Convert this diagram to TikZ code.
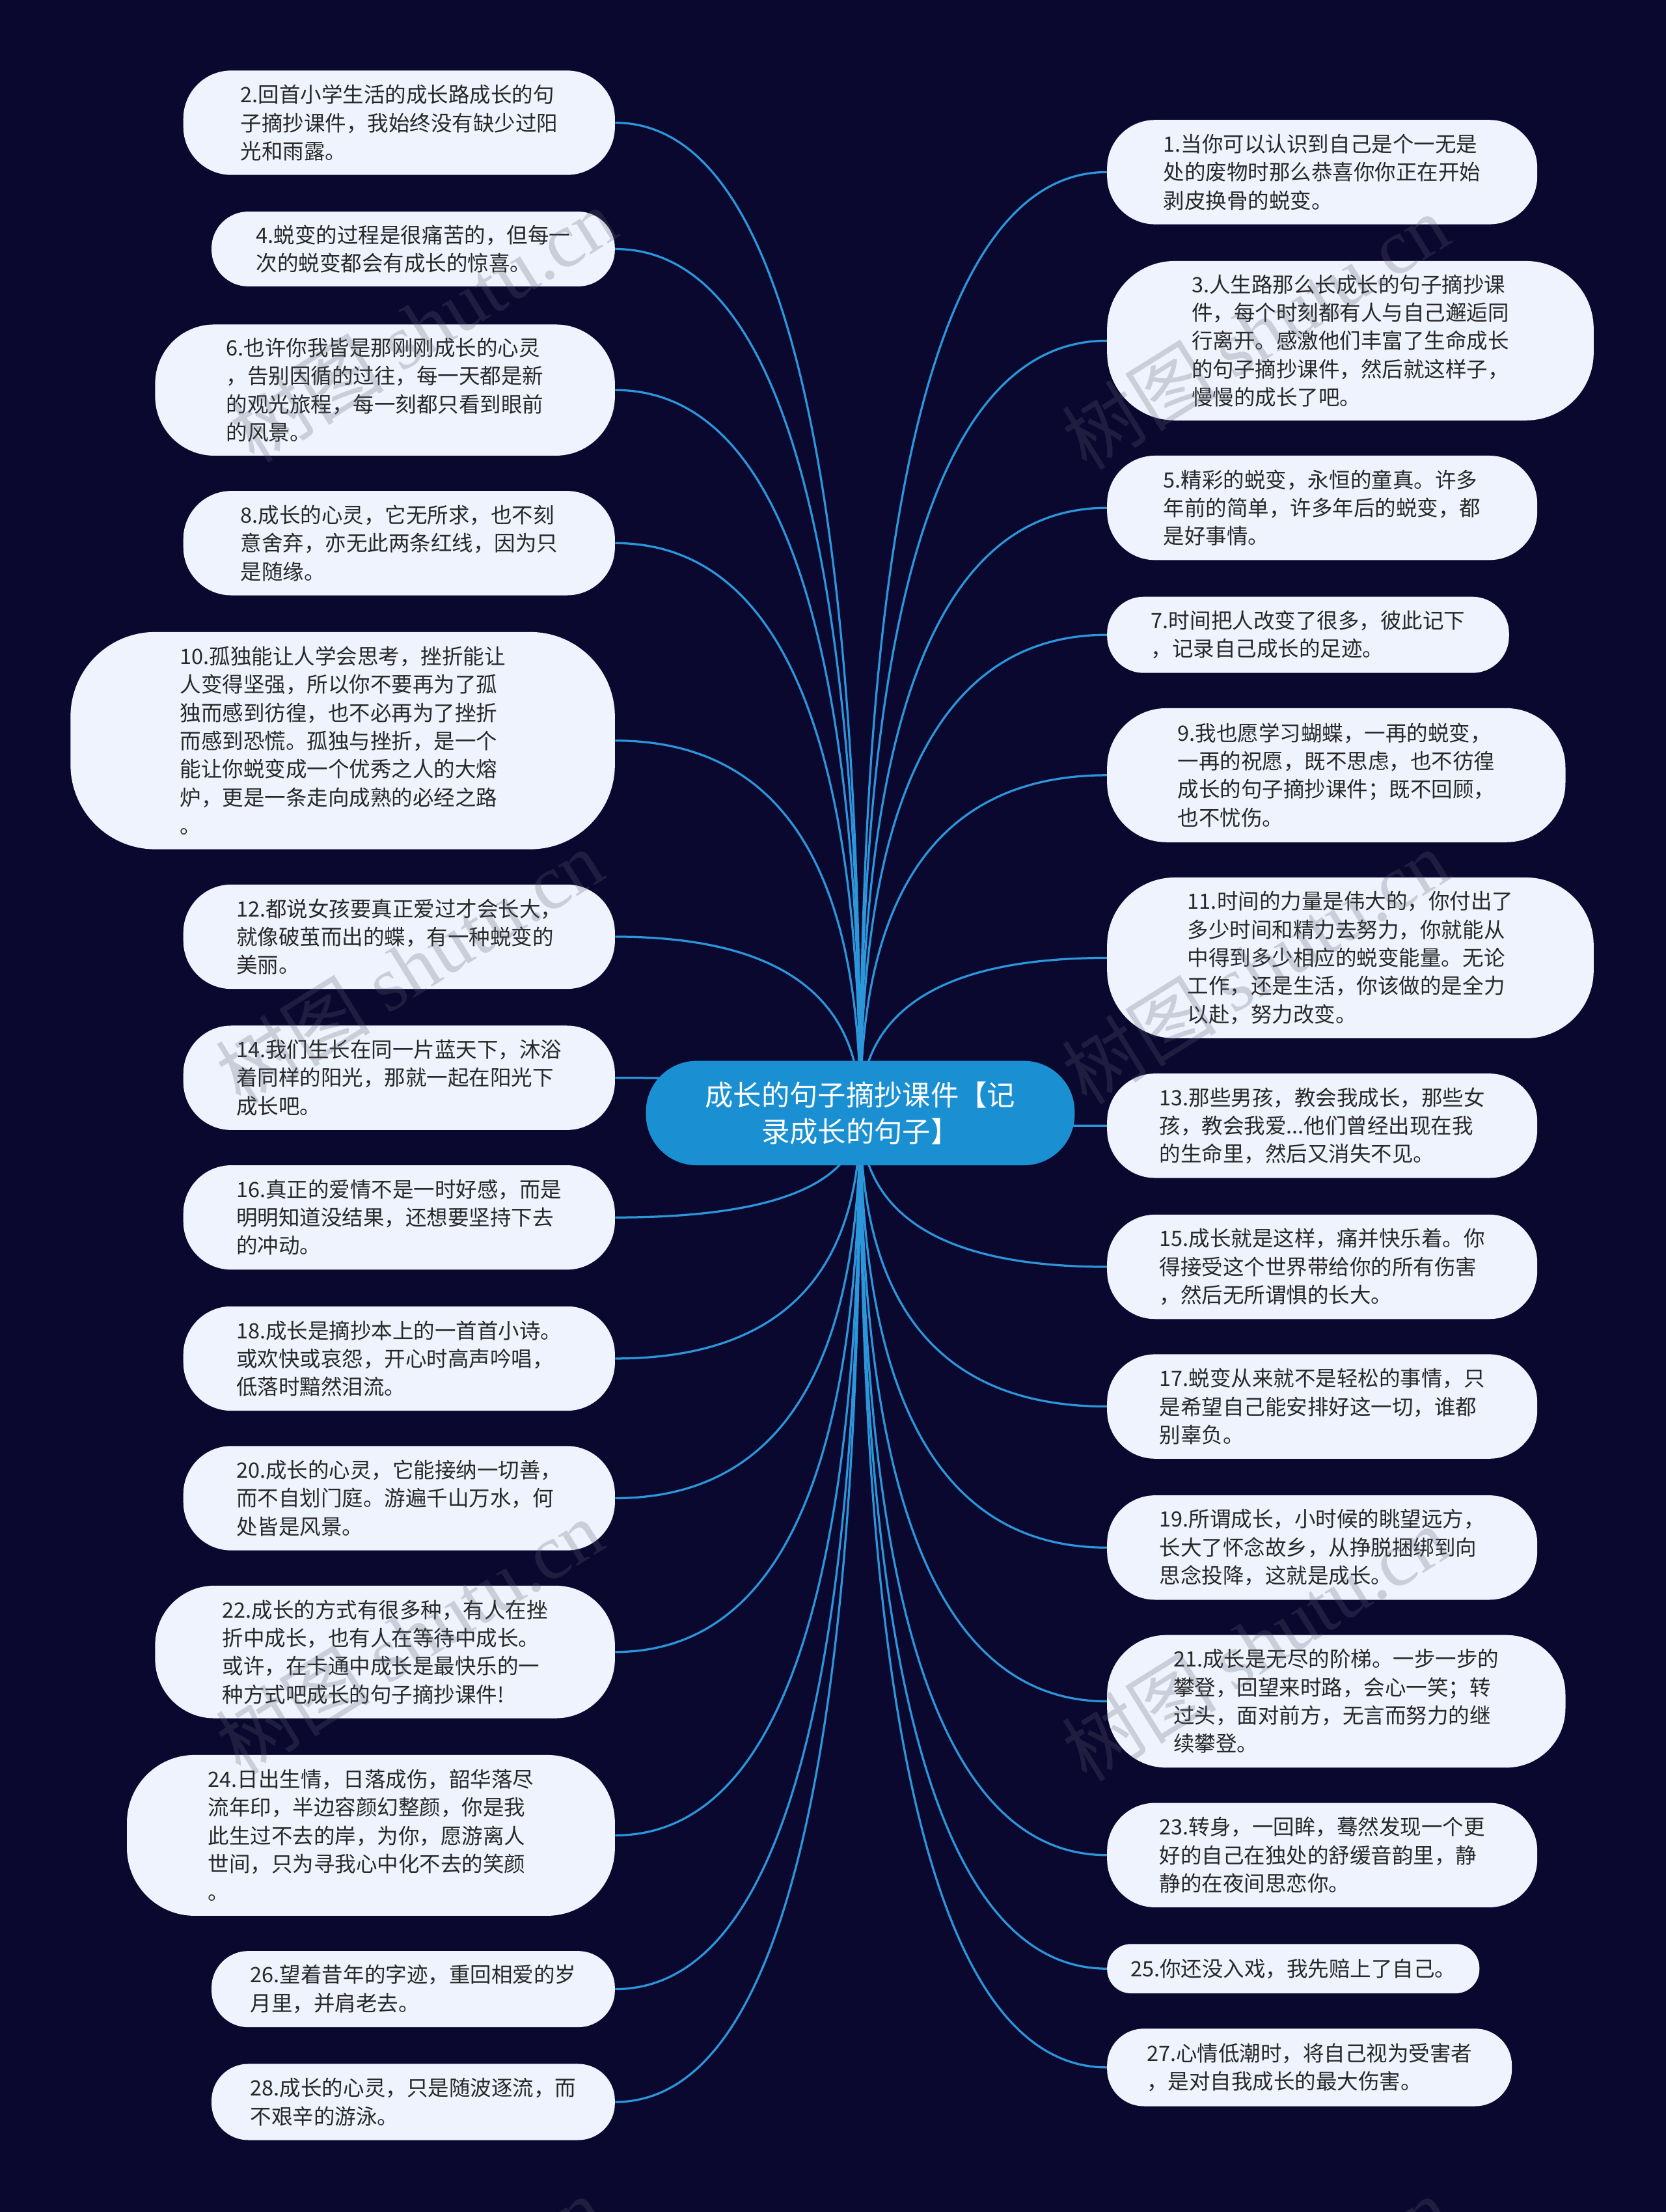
\documentclass[tikz,border=0pt]{standalone}
\usepackage{fontspec}
\setmainfont{Noto Sans CJK SC}
\newfontfamily\wmlatin{Liberation Serif}
\usetikzlibrary{calc}
\definecolor{bgc}{RGB}{11,8,48}
\definecolor{leaffill}{RGB}{238,243,253}
\definecolor{leaftext}{RGB}{40,40,40}
\definecolor{linkc}{RGB}{44,150,218}
\definecolor{rootc}{RGB}{26,144,210}
\definecolor{wmc}{RGB}{95,95,115}
\pgfdeclarelayer{bgl}
\pgfdeclarelayer{linkl}
\pgfsetlayers{bgl,linkl,main}
\tikzset{
  leaf/.style={rectangle, fill=leaffill, text=leaftext, align=left, inner sep=0pt, font=\fontsize{15}{20}\selectfont},
  rootnode/.style={rectangle, fill=rootc, text=white, align=center, inner sep=0pt, rounded corners=36pt, font=\fontsize{20}{26}\selectfont, minimum width=304pt, minimum height=74pt},
  link/.style={draw=linkc, line width=1.5pt},
  wm/.style={text=wmc, fill opacity=0.25, rotate=32, font=\fontsize{55}{60}\selectfont}
}
\newcommand\leafnode[7]{%
  \node[leaf, minimum width={#4pt-#2pt}, minimum height={#5pt-#3pt}, rounded corners=#6pt] (#1) at ({(#2+#4)/2},{(#3+#5)/2}) {#7};}
\newcommand\linkto[2]{%
  \draw[link] (root.center) .. controls ($(root.center)!0.6667!(root.center |- #1.#2)$) and ($(#1.#2)!0.6667!(root.center |- #1.#2)$) .. (#1.#2);}
\begin{document}
\begin{tikzpicture}[x=1pt,y=-1pt]
\useasboundingbox (0,0) rectangle (1181.3,1568);
\begin{pgfonlayer}{bgl}
\fill[bgc] (0,0) rectangle (1181.3,1568);
\end{pgfonlayer}
\clip (0,0) rectangle (1181.3,1568);

\node[rootnode] (root) at (610,789) {成长的句子摘抄课件【记\\录成长的句子】};

% left side
\leafnode{l2}{130}{50}{436}{124}{34}{2.回首小学生活的成长路成长的句\\子摘抄课件，我始终没有缺少过阳\\光和雨露。}
\leafnode{l4}{150}{150}{436}{203}{26}{4.蜕变的过程是很痛苦的，但每一\\次的蜕变都会有成长的惊喜。}
\leafnode{l6}{110}{230}{436}{323}{42}{6.也许你我皆是那刚刚成长的心灵\\，告别因循的过往，每一天都是新\\的观光旅程，每一刻都只看到眼前\\的风景。}
\leafnode{l8}{130}{348}{436}{422}{34}{8.成长的心灵，它无所求，也不刻\\意舍弃，亦无此两条红线，因为只\\是随缘。}
\leafnode{l10}{50}{448}{436}{602}{60}{10.孤独能让人学会思考，挫折能让\\人变得坚强，所以你不要再为了孤\\独而感到彷徨，也不必再为了挫折\\而感到恐慌。孤独与挫折，是一个\\能让你蜕变成一个优秀之人的大熔\\炉，更是一条走向成熟的必经之路\\。}
\leafnode{l12}{130}{627}{436}{701}{34}{12.都说女孩要真正爱过才会长大，\\就像破茧而出的蝶，有一种蜕变的\\美丽。}
\leafnode{l14}{130}{727}{436}{801}{34}{14.我们生长在同一片蓝天下，沐浴\\着同样的阳光，那就一起在阳光下\\成长吧。}
\leafnode{l16}{130}{826}{436}{900}{34}{16.真正的爱情不是一时好感，而是\\明明知道没结果，还想要坚持下去\\的冲动。}
\leafnode{l18}{130}{926}{436}{1000}{34}{18.成长是摘抄本上的一首首小诗。\\或欢快或哀怨，开心时高声吟唱，\\低落时黯然泪流。}
\leafnode{l20}{130}{1025}{436}{1099}{34}{20.成长的心灵，它能接纳一切善，\\而不自划门庭。游遍千山万水，何\\处皆是风景。}
\leafnode{l22}{110}{1124}{436}{1218}{42}{22.成长的方式有很多种，有人在挫\\折中成长，也有人在等待中成长。\\或许，在卡通中成长是最快乐的一\\种方式吧成长的句子摘抄课件!}
\leafnode{l24}{90}{1244}{436}{1358}{48}{24.日出生情，日落成伤，韶华落尽\\流年印，半边容颜幻整颜，你是我\\此生过不去的岸，为你，愿游离人\\世间，只为寻我心中化不去的笑颜\\。}
\leafnode{l26}{150}{1383}{436}{1437}{26}{26.望着昔年的字迹，重回相爱的岁\\月里，并肩老去。}
\leafnode{l28}{150}{1463}{436}{1517}{26}{28.成长的心灵，只是随波逐流，而\\不艰辛的游泳。}

% right side
\leafnode{r1}{785}{85}{1090}{159}{34}{1.当你可以认识到自己是个一无是\\处的废物时那么恭喜你你正在开始\\剥皮换骨的蜕变。}
\leafnode{r3}{785}{185}{1130}{298}{48}{3.人生路那么长成长的句子摘抄课\\件，每个时刻都有人与自己邂逅同\\行离开。感激他们丰富了生命成长\\的句子摘抄课件，然后就这样子，\\慢慢的成长了吧。}
\leafnode{r5}{785}{323}{1090}{397}{34}{5.精彩的蜕变，永恒的童真。许多\\年前的简单，许多年后的蜕变，都\\是好事情。}
\leafnode{r7}{785}{423}{1070}{477}{26}{7.时间把人改变了很多，彼此记下\\，记录自己成长的足迹。}
\leafnode{r9}{785}{502}{1110}{597}{42}{9.我也愿学习蝴蝶，一再的蜕变，\\一再的祝愿，既不思虑，也不彷徨\\成长的句子摘抄课件；既不回顾，\\也不忧伤。}
\leafnode{r11}{785}{622}{1130}{736}{48}{11.时间的力量是伟大的，你付出了\\多少时间和精力去努力，你就能从\\中得到多少相应的蜕变能量。无论\\工作，还是生活，你该做的是全力\\以赴，努力改变。}
\leafnode{r13}{785}{761}{1090}{835}{34}{13.那些男孩，教会我成长，那些女\\孩，教会我爱...他们曾经出现在我\\的生命里，然后又消失不见。}
\leafnode{r15}{785}{861}{1090}{935}{34}{15.成长就是这样，痛并快乐着。你\\得接受这个世界带给你的所有伤害\\，然后无所谓惧的长大。}
\leafnode{r17}{785}{960}{1090}{1034}{34}{17.蜕变从来就不是轻松的事情，只\\是希望自己能安排好这一切，谁都\\别辜负。}
\leafnode{r19}{785}{1060}{1090}{1134}{34}{19.所谓成长，小时候的眺望远方，\\长大了怀念故乡，从挣脱捆绑到向\\思念投降，这就是成长。}
\leafnode{r21}{785}{1159}{1110}{1253}{42}{21.成长是无尽的阶梯。一步一步的\\攀登，回望来时路，会心一笑；转\\过头，面对前方，无言而努力的继\\续攀登。}
\leafnode{r23}{785}{1278}{1090}{1352}{34}{23.转身，一回眸，蓦然发现一个更\\好的自己在独处的舒缓音韵里，静\\静的在夜间思恋你。}
\leafnode{r25}{785}{1378}{1049}{1413}{17}{25.你还没入戏，我先赔上了自己。}
\leafnode{r27}{785}{1438}{1072}{1493}{26}{27.心情低潮时，将自己视为受害者\\，是对自我成长的最大伤害。}

\begin{pgfonlayer}{linkl}
\foreach \n in {l2,l4,l6,l8,l10,l12,l14,l16,l18,l20,l22,l24,l26,l28} {\linkto{\n}{east}}
\foreach \n in {r1,r3,r5,r7,r9,r11,r13,r15,r17,r19,r21,r23,r25,r27} {\linkto{\n}{west}}
\end{pgfonlayer}

% watermarks
\node[wm] (wm1) at (300,230) {树图 {\wmlatin shutu.cn}};
\node[wm] (wm2) at (890,235) {树图 {\wmlatin shutu.cn}};
\node[wm] (wm3) at (290,685) {树图 {\wmlatin shutu.cn}};
\node[wm] (wm4) at (890,685) {树图 {\wmlatin shutu.cn}};
\node[wm] (wm5) at (290,1160) {树图 {\wmlatin shutu.cn}};
\node[wm] (wm6) at (890,1165) {树图 {\wmlatin shutu.cn}};
\node[wm] (wm7) at (290,1640) {树图 {\wmlatin shutu.cn}};
\node[wm] (wm8) at (890,1640) {树图 {\wmlatin shutu.cn}};
\end{tikzpicture}
\end{document}
